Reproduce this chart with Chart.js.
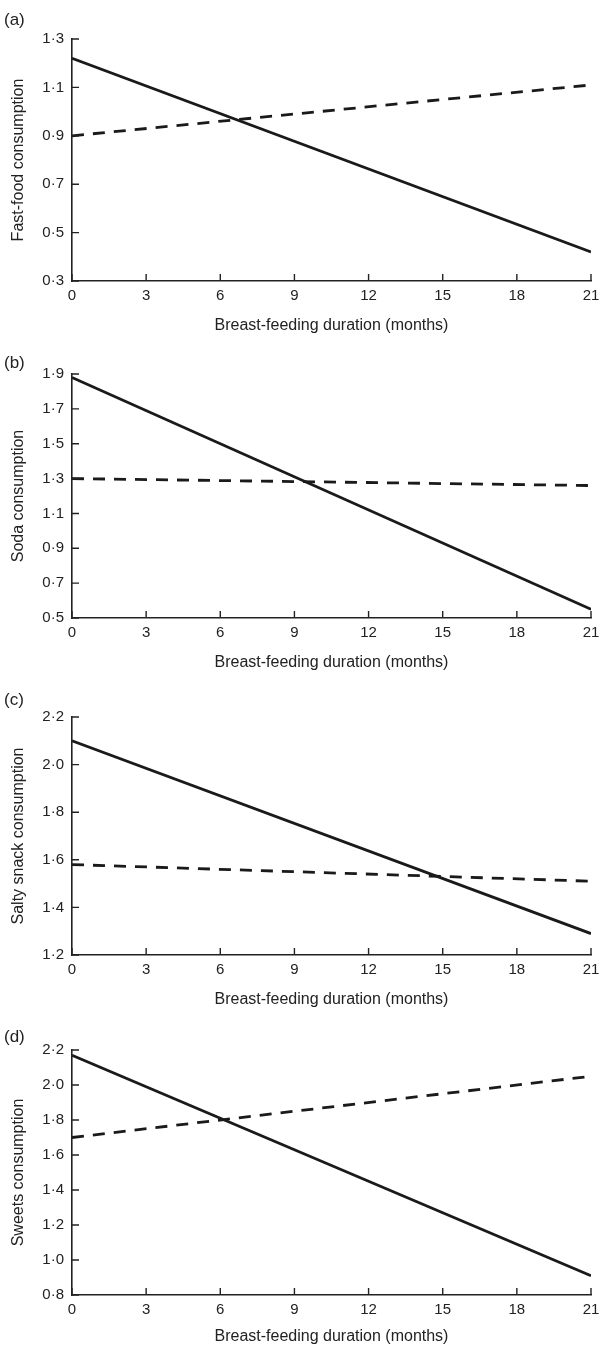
<!DOCTYPE html>
<html>
<head>
<meta charset="utf-8">
<script src="https://cdn.jsdelivr.net/npm/chart.js@4"></script>
<style>
  body { margin: 0; background: #fff; }
  .panel { position: absolute; left: 0; width: 602px; height: 337px; }
</style>
</head>
<body>
<div class="panel" style="top:0px"><canvas id="chartA"></canvas></div>
<div class="panel" style="top:337px"><canvas id="chartB"></canvas></div>
<div class="panel" style="top:674px"><canvas id="chartC"></canvas></div>
<div class="panel" style="top:1011px"><canvas id="chartD"></canvas></div>
<script>
// breast-feeding duration (months) - line end points
const months = [0, 21];
const xTicks = [0, 3, 6, 9, 12, 15, 18, 21];
const xTitle = 'Breast-feeding duration (months)';

const panelLabels = ['(a)', '(b)', '(c)', '(d)'];
const yTitles = ['Fast-food consumption', 'Soda consumption', 'Salty snack consumption', 'Sweets consumption'];

// solid line / dashed line values at 0 and 21 months
const solidA = [1.22, 0.42];
const dashedA = [0.90, 1.11];
const solidB = [1.88, 0.55];
const dashedB = [1.30, 1.26];
const solidC = [2.10, 1.29];
const dashedC = [1.58, 1.51];
const solidD = [2.17, 0.91];
const dashedD = [1.70, 2.05];

const yTicksA = [0.3, 0.5, 0.7, 0.9, 1.1, 1.3];
const yTicksB = [0.5, 0.7, 0.9, 1.1, 1.3, 1.5, 1.7, 1.9];
const yTicksC = [1.2, 1.4, 1.6, 1.8, 2.0, 2.2];
const yTicksD = [0.8, 1.0, 1.2, 1.4, 1.6, 1.8, 2.0, 2.2];

const font = "'Liberation Sans', Arial, sans-serif";

function fmt(v) {
    return v.toFixed(1).replace('.', '\u00b7');
}

function toPoints(vals) {
    return months.map((m, i) => ({x: m, y: vals[i]}));
}

// ticks point inwards in the original, draw them by hand
const inwardTicks = {
    id: 'inwardTicks',
    afterDraw(chart) {
        const c = chart.ctx;
        const area = chart.chartArea;
        const xs = chart.scales.x, ys = chart.scales.y;
        c.save();
        c.strokeStyle = '#222';
        c.lineWidth = 1.4;
        c.beginPath();
        xs.ticks.forEach(t => {
            const px = xs.getPixelForValue(t.value);
            c.moveTo(px, area.bottom);
            c.lineTo(px, area.bottom - 7);
        });
        ys.ticks.forEach(t => {
            const py = ys.getPixelForValue(t.value);
            c.moveTo(area.left, py);
            c.lineTo(area.left + 7, py);
        });
        c.stroke();
        c.restore();
    }
};

const panelLabel = {
    id: 'panelLabel',
    afterDraw(chart, args, opts) {
        const c = chart.ctx;
        c.save();
        c.fillStyle = '#222';
        c.font = '17px ' + font;
        c.textBaseline = 'middle';
        c.fillText(opts.text, 4, opts.y);
        c.restore();
    }
};

function makeChart(id, idx, solid, dashed, yTicks, top, bottom, labelY) {
    new Chart(document.getElementById(id), {
        type: 'line',
        data: {
            datasets: [{
                data: toPoints(solid),
                borderColor: '#1a1a1a',
                borderWidth: 2.8,
                pointRadius: 0,
                fill: false
            }, {
                data: toPoints(dashed),
                borderColor: '#1a1a1a',
                borderWidth: 2.8,
                borderDash: [12, 9],
                pointRadius: 0,
                fill: false
            }]
        },
        options: {
            responsive: true,
            maintainAspectRatio: false,
            animation: false,
            layout: { padding: { top: top, right: 11, left: 0, bottom: 0 } },
            plugins: {
                legend: { display: false },
                tooltip: { enabled: false },
                panelLabel: { text: panelLabels[idx], y: labelY }
            },
            scales: {
                x: {
                    type: 'linear',
                    min: months[0],
                    max: months[1],
                    afterBuildTicks: s => { s.ticks = xTicks.map(v => ({value: v})); },
                    afterFit: s => {
                        s.height = 337 - bottom;
                        s.paddingRight = 0;
                        s.paddingLeft = 0;
                    },
                    grid: { display: false, drawTicks: false },
                    border: { display: true, color: '#222', width: 1.6 },
                    ticks: {
                        padding: 6,
                        color: '#222',
                        maxRotation: 0,
                        font: { family: font, size: 15 },
                        callback: v => String(v)
                    },
                    title: {
                        display: true,
                        text: xTitle,
                        color: '#222',
                        font: { family: font, size: 16 },
                        padding: { top: 0, bottom: 2 }
                    }
                },
                y: {
                    type: 'linear',
                    min: yTicks[0],
                    max: yTicks[yTicks.length - 1],
                    afterBuildTicks: s => { s.ticks = yTicks.map(v => ({value: v})); },
                    afterFit: s => { s.width = 72; },
                    grid: { display: false, drawTicks: false },
                    border: { display: true, color: '#222', width: 1.6 },
                    ticks: {
                        padding: 8,
                        color: '#222',
                        font: { family: font, size: 15 },
                        callback: v => fmt(v)
                    },
                    title: {
                        display: true,
                        text: yTitles[idx],
                        color: '#222',
                        font: { family: font, size: 16 },
                        padding: { top: 9, bottom: 0 }
                    }
                }
            }
        },
        plugins: [inwardTicks, panelLabel]
    });
}

makeChart('chartA', 0, solidA, dashedA, yTicksA, 39, 281, 20);
makeChart('chartB', 1, solidB, dashedB, yTicksB, 37, 281, 26);
makeChart('chartC', 2, solidC, dashedC, yTicksC, 43, 281, 26);
makeChart('chartD', 3, solidD, dashedD, yTicksD, 39, 284, 26);
</script>
</body>
</html>
